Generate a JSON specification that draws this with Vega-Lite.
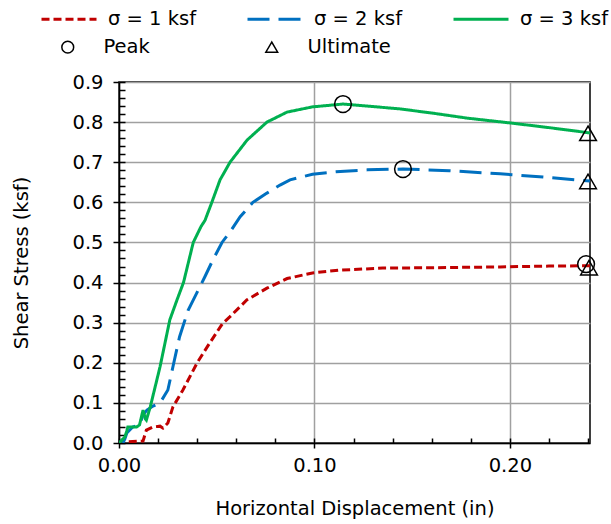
{
  "$schema": "https://vega.github.io/schema/vega-lite/v6.json",
  "width": 471,
  "height": 361,
  "autosize": {"type": "none"},
  "padding": {"left": 119, "top": 82, "right": 21, "bottom": 81},
  "config": {
    "font": "DejaVu Sans",
    "view": {"stroke": "black", "strokeWidth": 1.5},
    "axis": {"labelFont": "DejaVu Sans", "titleFont": "DejaVu Sans", "labelColor": "black", "titleColor": "black", "labelFontSize": 19.5, "titleFontSize": 19.5, "titleFontWeight": "normal", "labelFlush": false, "labelOverlap": false, "domainColor": "black", "domainWidth": 1.5, "tickColor": "black", "tickWidth": 1.5, "gridColor": "#a0a0a0", "gridWidth": 1.5},
    "legend": {"labelFont": "DejaVu Sans", "labelFontSize": 19.5, "labelColor": "black"}
  },
  "datasets": {
    "lines": [
      {"series": "σ = 1 ksf", "x": 0.005, "y": 0.003},
      {"series": "σ = 1 ksf", "x": 0.0123, "y": 0.005},
      {"series": "σ = 1 ksf", "x": 0.014, "y": 0.032},
      {"series": "σ = 1 ksf", "x": 0.0174, "y": 0.04},
      {"series": "σ = 1 ksf", "x": 0.021, "y": 0.042},
      {"series": "σ = 1 ksf", "x": 0.0225, "y": 0.037},
      {"series": "σ = 1 ksf", "x": 0.025, "y": 0.05},
      {"series": "σ = 1 ksf", "x": 0.0276, "y": 0.09},
      {"series": "σ = 1 ksf", "x": 0.0327, "y": 0.132},
      {"series": "σ = 1 ksf", "x": 0.04, "y": 0.2},
      {"series": "σ = 1 ksf", "x": 0.0465, "y": 0.25},
      {"series": "σ = 1 ksf", "x": 0.053, "y": 0.298},
      {"series": "σ = 1 ksf", "x": 0.0568, "y": 0.315},
      {"series": "σ = 1 ksf", "x": 0.0655, "y": 0.357},
      {"series": "σ = 1 ksf", "x": 0.0757, "y": 0.386},
      {"series": "σ = 1 ksf", "x": 0.086, "y": 0.41},
      {"series": "σ = 1 ksf", "x": 0.099, "y": 0.424},
      {"series": "σ = 1 ksf", "x": 0.113, "y": 0.431},
      {"series": "σ = 1 ksf", "x": 0.135, "y": 0.436},
      {"series": "σ = 1 ksf", "x": 0.161, "y": 0.437},
      {"series": "σ = 1 ksf", "x": 0.195, "y": 0.439},
      {"series": "σ = 1 ksf", "x": 0.22, "y": 0.441},
      {"series": "σ = 1 ksf", "x": 0.241, "y": 0.442},
      {"series": "σ = 2 ksf", "x": 0.002, "y": 0.0},
      {"series": "σ = 2 ksf", "x": 0.003, "y": 0.01},
      {"series": "σ = 2 ksf", "x": 0.004, "y": 0.025},
      {"series": "σ = 2 ksf", "x": 0.007, "y": 0.04},
      {"series": "σ = 2 ksf", "x": 0.0105, "y": 0.045},
      {"series": "σ = 2 ksf", "x": 0.0123, "y": 0.07},
      {"series": "σ = 2 ksf", "x": 0.0143, "y": 0.082},
      {"series": "σ = 2 ksf", "x": 0.0174, "y": 0.092},
      {"series": "σ = 2 ksf", "x": 0.021, "y": 0.1},
      {"series": "σ = 2 ksf", "x": 0.025, "y": 0.132},
      {"series": "σ = 2 ksf", "x": 0.0276, "y": 0.19},
      {"series": "σ = 2 ksf", "x": 0.031, "y": 0.265},
      {"series": "σ = 2 ksf", "x": 0.0353, "y": 0.33},
      {"series": "σ = 2 ksf", "x": 0.0404, "y": 0.38},
      {"series": "σ = 2 ksf", "x": 0.044, "y": 0.415},
      {"series": "σ = 2 ksf", "x": 0.048, "y": 0.456},
      {"series": "σ = 2 ksf", "x": 0.0527, "y": 0.5},
      {"series": "σ = 2 ksf", "x": 0.0568, "y": 0.526},
      {"series": "σ = 2 ksf", "x": 0.062, "y": 0.564},
      {"series": "σ = 2 ksf", "x": 0.0685, "y": 0.6},
      {"series": "σ = 2 ksf", "x": 0.0757, "y": 0.623},
      {"series": "σ = 2 ksf", "x": 0.0824, "y": 0.643},
      {"series": "σ = 2 ksf", "x": 0.0875, "y": 0.656},
      {"series": "σ = 2 ksf", "x": 0.099, "y": 0.67},
      {"series": "σ = 2 ksf", "x": 0.111, "y": 0.676},
      {"series": "σ = 2 ksf", "x": 0.127, "y": 0.681},
      {"series": "σ = 2 ksf", "x": 0.1453, "y": 0.683},
      {"series": "σ = 2 ksf", "x": 0.169, "y": 0.679},
      {"series": "σ = 2 ksf", "x": 0.195, "y": 0.671},
      {"series": "σ = 2 ksf", "x": 0.217, "y": 0.663},
      {"series": "σ = 2 ksf", "x": 0.241, "y": 0.653},
      {"series": "σ = 3 ksf", "x": 0.0, "y": 0.0},
      {"series": "σ = 3 ksf", "x": 0.002, "y": 0.01},
      {"series": "σ = 3 ksf", "x": 0.003, "y": 0.015},
      {"series": "σ = 3 ksf", "x": 0.004, "y": 0.03},
      {"series": "σ = 3 ksf", "x": 0.0045, "y": 0.04},
      {"series": "σ = 3 ksf", "x": 0.009, "y": 0.04},
      {"series": "σ = 3 ksf", "x": 0.0105, "y": 0.045},
      {"series": "σ = 3 ksf", "x": 0.0123, "y": 0.082},
      {"series": "σ = 3 ksf", "x": 0.0135, "y": 0.06},
      {"series": "σ = 3 ksf", "x": 0.014, "y": 0.057},
      {"series": "σ = 3 ksf", "x": 0.016, "y": 0.09},
      {"series": "σ = 3 ksf", "x": 0.021, "y": 0.19},
      {"series": "σ = 3 ksf", "x": 0.026, "y": 0.307},
      {"series": "σ = 3 ksf", "x": 0.0297, "y": 0.357},
      {"series": "σ = 3 ksf", "x": 0.033, "y": 0.4},
      {"series": "σ = 3 ksf", "x": 0.038, "y": 0.5},
      {"series": "σ = 3 ksf", "x": 0.042, "y": 0.54},
      {"series": "σ = 3 ksf", "x": 0.044, "y": 0.555},
      {"series": "σ = 3 ksf", "x": 0.0475, "y": 0.6},
      {"series": "σ = 3 ksf", "x": 0.0517, "y": 0.656},
      {"series": "σ = 3 ksf", "x": 0.0568, "y": 0.7},
      {"series": "σ = 3 ksf", "x": 0.0655, "y": 0.755},
      {"series": "σ = 3 ksf", "x": 0.0757, "y": 0.8},
      {"series": "σ = 3 ksf", "x": 0.086, "y": 0.825},
      {"series": "σ = 3 ksf", "x": 0.099, "y": 0.838},
      {"series": "σ = 3 ksf", "x": 0.1146, "y": 0.845},
      {"series": "σ = 3 ksf", "x": 0.127, "y": 0.84},
      {"series": "σ = 3 ksf", "x": 0.1437, "y": 0.833},
      {"series": "σ = 3 ksf", "x": 0.161, "y": 0.822},
      {"series": "σ = 3 ksf", "x": 0.178, "y": 0.81},
      {"series": "σ = 3 ksf", "x": 0.2, "y": 0.798},
      {"series": "σ = 3 ksf", "x": 0.2205, "y": 0.786},
      {"series": "σ = 3 ksf", "x": 0.241, "y": 0.773}
    ],
    "points": [
      {"type": "Peak", "series": "σ = 1 ksf", "x": 0.239, "y": 0.446},
      {"type": "Ultimate", "series": "σ = 1 ksf", "x": 0.2405, "y": 0.437},
      {"type": "Peak", "series": "σ = 2 ksf", "x": 0.1453, "y": 0.683},
      {"type": "Ultimate", "series": "σ = 2 ksf", "x": 0.24, "y": 0.652},
      {"type": "Peak", "series": "σ = 3 ksf", "x": 0.1146, "y": 0.845},
      {"type": "Ultimate", "series": "σ = 3 ksf", "x": 0.24, "y": 0.772}
    ]
  },
  "layer": [
    {
      "data": {"name": "lines"},
      "mark": {"type": "line", "strokeWidth": 3, "clip": true},
      "encoding": {
        "x": {"field": "x", "type": "quantitative", "scale": {"domain": [0, 0.241], "nice": false},
          "axis": {"title": "Horizontal Displacement (in)", "values": [0, 0.1, 0.2], "format": ".2f", "tickSize": 5, "labelPadding": 8, "titlePadding": 25, "grid": true}},
        "y": {"field": "y", "type": "quantitative", "scale": {"domain": [0, 0.9], "nice": false},
          "axis": {"title": "Shear Stress (ksf)", "values": [0, 0.1, 0.2, 0.3, 0.4, 0.5, 0.6, 0.7, 0.8, 0.9], "format": ".1f", "tickSize": 6, "labelPadding": 10, "titlePadding": 40, "grid": true}},
        "color": {"field": "series", "type": "nominal",
          "scale": {"domain": ["σ = 1 ksf", "σ = 2 ksf", "σ = 3 ksf"], "range": ["#c00000", "#0070c0", "#00b050"]},
          "legend": {"title": null, "orient": "none", "legendX": -79, "legendY": -92, "direction": "horizontal", "columns": 3, "symbolType": "stroke", "symbolSize": 3025, "symbolStrokeWidth": 3, "labelOffset": 10, "columnPadding": 44}},
        "strokeDash": {"field": "series", "type": "nominal",
          "scale": {"domain": ["σ = 1 ksf", "σ = 2 ksf", "σ = 3 ksf"], "range": [[8, 4], [22, 9], [1, 0]]},
          "legend": {"title": null, "orient": "none", "legendX": -79, "legendY": -92, "direction": "horizontal", "columns": 3, "symbolType": "stroke", "symbolSize": 3025, "symbolStrokeWidth": 3, "labelOffset": 10, "columnPadding": 44}}
      }
    },
    {
      "data": {"name": "points"},
      "mark": {"type": "point", "filled": false, "color": "black", "strokeWidth": 1.5, "size": 280, "opacity": 1},
      "encoding": {
        "x": {"field": "x", "type": "quantitative",
          "axis": {"title": null, "orient": "top", "offset": -361, "values": [0, 0.02, 0.04, 0.06, 0.08, 0.1, 0.12, 0.14, 0.16, 0.18, 0.2, 0.22, 0.24], "labels": false, "domain": false, "grid": false, "tickSize": 5}},
        "y": {"field": "y", "type": "quantitative",
          "axis": {"title": null, "orient": "right", "offset": -471, "values": [0, 0.02, 0.04, 0.06, 0.08, 0.1, 0.12, 0.14, 0.16, 0.18, 0.2, 0.22, 0.24, 0.26, 0.28, 0.3, 0.32, 0.34, 0.36, 0.38, 0.4, 0.42, 0.44, 0.46, 0.48, 0.5, 0.52, 0.54, 0.56, 0.58, 0.6, 0.62, 0.64, 0.66, 0.68, 0.7, 0.72, 0.74, 0.76, 0.78, 0.8, 0.82, 0.84, 0.86, 0.88, 0.9], "labels": false, "domain": false, "grid": false, "tickSize": 6}},
        "shape": {"field": "type", "type": "nominal",
          "scale": {"domain": ["Peak", "Ultimate"], "range": ["circle", "triangle-up"]},
          "legend": {"title": null, "orient": "none", "legendX": -61, "legendY": -45, "direction": "horizontal", "columns": 2, "symbolSize": 140, "symbolStrokeWidth": 1.5, "symbolStrokeColor": "black", "symbolFillColor": "transparent", "labelOffset": 26, "columnPadding": 112,
            "encode": {"symbols": {"update": {"size": {"value": 140}, "stroke": {"value": "black"}, "fill": {"value": "transparent"}}}}}}
      }
    }
  ],
  "resolve": {"axis": {"x": "independent", "y": "independent"}}
}
